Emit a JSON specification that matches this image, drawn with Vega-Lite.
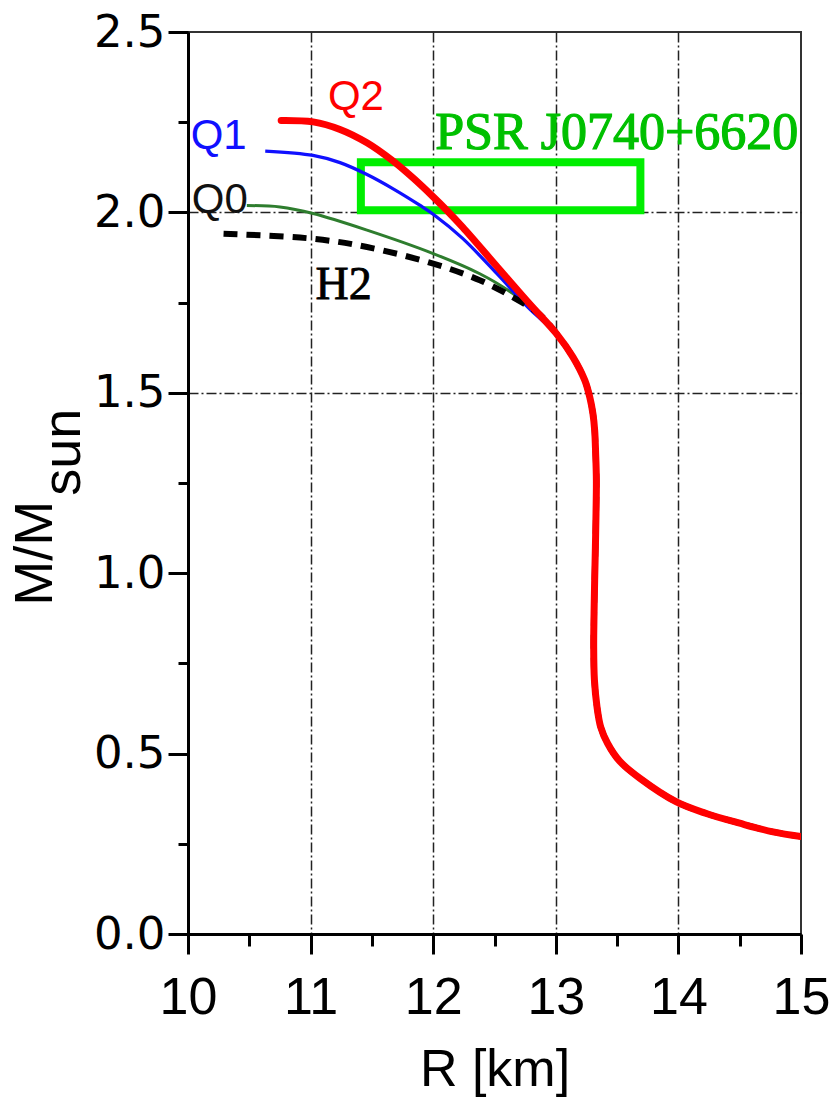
{
  "$schema": "https://vega.github.io/schema/vega-lite/v6.json",
  "description": "Mass-radius relations of neutron stars for the H2 and Q0-Q2 equations of state, with the PSR J0740+6620 constraint box.",
  "autosize": {"type": "none"},
  "padding": {"left": 188, "top": 32, "right": 31, "bottom": 168},
  "width": 613,
  "height": 902,
  "background": "white",
  "config": {
    "view": {"stroke": "#333333", "strokeWidth": 2},
    "font": "Liberation Sans"
  },
  "datasets": {
    "curves": [
      {"eos": "Q0", "R": 10.48, "M": 2.019},
      {"eos": "Q0", "R": 10.75, "M": 2.015},
      {"eos": "Q0", "R": 11.02, "M": 1.997},
      {"eos": "Q0", "R": 11.46, "M": 1.951},
      {"eos": "Q0", "R": 12.00, "M": 1.886},
      {"eos": "Q0", "R": 12.38, "M": 1.830},
      {"eos": "Q0", "R": 12.65, "M": 1.775},
      {"eos": "Q0", "R": 12.81, "M": 1.729},
      {"eos": "Q0", "R": 13.005, "M": 1.664},
      {"eos": "Q0", "R": 13.14, "M": 1.599},

      {"eos": "Q1", "R": 10.63, "M": 2.170},
      {"eos": "Q1", "R": 11.02, "M": 2.158},
      {"eos": "Q1", "R": 11.24, "M": 2.138},
      {"eos": "Q1", "R": 11.46, "M": 2.105},
      {"eos": "Q1", "R": 11.67, "M": 2.066},
      {"eos": "Q1", "R": 11.89, "M": 2.020},
      {"eos": "Q1", "R": 12.00, "M": 1.995},
      {"eos": "Q1", "R": 12.24, "M": 1.928},
      {"eos": "Q1", "R": 12.52, "M": 1.830},
      {"eos": "Q1", "R": 12.79, "M": 1.731},
      {"eos": "Q1", "R": 13.005, "M": 1.664},
      {"eos": "Q1", "R": 13.14, "M": 1.599},

      {"eos": "H2", "R": 10.29, "M": 1.941},
      {"eos": "H2", "R": 11.02, "M": 1.927},
      {"eos": "H2", "R": 11.46, "M": 1.904},
      {"eos": "H2", "R": 12.00, "M": 1.858},
      {"eos": "H2", "R": 12.38, "M": 1.812},
      {"eos": "H2", "R": 12.65, "M": 1.765},
      {"eos": "H2", "R": 12.87, "M": 1.717},
      {"eos": "H2", "R": 13.005, "M": 1.664},
      {"eos": "H2", "R": 13.14, "M": 1.599},
      {"eos": "H2", "R": 13.236, "M": 1.535},
      {"eos": "H2", "R": 13.277, "M": 1.488},
      {"eos": "H2", "R": 13.303, "M": 1.442},
      {"eos": "H2", "R": 13.317, "M": 1.396},
      {"eos": "H2", "R": 13.325, "M": 1.332},
      {"eos": "H2", "R": 13.331, "M": 1.258},
      {"eos": "H2", "R": 13.328, "M": 1.165},
      {"eos": "H2", "R": 13.323, "M": 1.073},
      {"eos": "H2", "R": 13.317, "M": 0.981},
      {"eos": "H2", "R": 13.312, "M": 0.888},
      {"eos": "H2", "R": 13.309, "M": 0.796},
      {"eos": "H2", "R": 13.315, "M": 0.704},
      {"eos": "H2", "R": 13.336, "M": 0.630},
      {"eos": "H2", "R": 13.366, "M": 0.574},
      {"eos": "H2", "R": 13.423, "M": 0.528},
      {"eos": "H2", "R": 13.521, "M": 0.479},
      {"eos": "H2", "R": 13.684, "M": 0.432},
      {"eos": "H2", "R": 13.984, "M": 0.366},
      {"eos": "H2", "R": 14.228, "M": 0.334},
      {"eos": "H2", "R": 14.500, "M": 0.307},
      {"eos": "H2", "R": 14.772, "M": 0.283},
      {"eos": "H2", "R": 15.000, "M": 0.270},

      {"eos": "Q2", "R": 10.76, "M": 2.255},
      {"eos": "Q2", "R": 11.02, "M": 2.251},
      {"eos": "Q2", "R": 11.24, "M": 2.230},
      {"eos": "Q2", "R": 11.46, "M": 2.193},
      {"eos": "Q2", "R": 11.67, "M": 2.143},
      {"eos": "Q2", "R": 11.84, "M": 2.094},
      {"eos": "Q2", "R": 12.00, "M": 2.043},
      {"eos": "Q2", "R": 12.11, "M": 2.006},
      {"eos": "Q2", "R": 12.24, "M": 1.959},
      {"eos": "Q2", "R": 12.52, "M": 1.850},
      {"eos": "Q2", "R": 12.79, "M": 1.745},
      {"eos": "Q2", "R": 13.005, "M": 1.664},
      {"eos": "Q2", "R": 13.14, "M": 1.599},
      {"eos": "Q2", "R": 13.236, "M": 1.535},
      {"eos": "Q2", "R": 13.277, "M": 1.488},
      {"eos": "Q2", "R": 13.303, "M": 1.442},
      {"eos": "Q2", "R": 13.317, "M": 1.396},
      {"eos": "Q2", "R": 13.325, "M": 1.332},
      {"eos": "Q2", "R": 13.331, "M": 1.258},
      {"eos": "Q2", "R": 13.328, "M": 1.165},
      {"eos": "Q2", "R": 13.323, "M": 1.073},
      {"eos": "Q2", "R": 13.317, "M": 0.981},
      {"eos": "Q2", "R": 13.312, "M": 0.888},
      {"eos": "Q2", "R": 13.309, "M": 0.796},
      {"eos": "Q2", "R": 13.315, "M": 0.704},
      {"eos": "Q2", "R": 13.336, "M": 0.630},
      {"eos": "Q2", "R": 13.366, "M": 0.574},
      {"eos": "Q2", "R": 13.423, "M": 0.528},
      {"eos": "Q2", "R": 13.521, "M": 0.479},
      {"eos": "Q2", "R": 13.684, "M": 0.432},
      {"eos": "Q2", "R": 13.984, "M": 0.366},
      {"eos": "Q2", "R": 14.228, "M": 0.334},
      {"eos": "Q2", "R": 14.500, "M": 0.307},
      {"eos": "Q2", "R": 14.772, "M": 0.283},
      {"eos": "Q2", "R": 15.000, "M": 0.270}
    ]
  },
  "encoding": {
    "x": {
      "field": "R",
      "type": "quantitative",
      "scale": {"domain": [10, 15], "nice": false, "zero": false},
      "axis": {
        "title": "R [km]",
        "values": [10, 10.5, 11, 11.5, 12, 12.5, 13, 13.5, 14, 14.5, 15],
        "labelExpr": "datum.value % 1 === 0 ? format(datum.value, 'd') : ''",
        "labelOverlap": false,
        "labelFlush": false,
        "labelBound": false,
        "labelFont": "Liberation Sans",
        "labelFontSize": 52,
        "labelColor": "black",
        "labelPadding": 18,
        "domainColor": "black",
        "domainWidth": 3,
        "tickColor": "black",
        "tickWidth": 3,
        "tickSize": {"condition": {"test": "datum.value % 1 === 0", "value": 20}, "value": 12},
        "grid": true,
        "gridColor": "#222222",
        "gridWidth": 1.5,
        "gridDash": [10, 3, 2, 3],
        "gridOpacity": {"condition": {"test": "datum.value % 1 === 0 && datum.value > 10 && datum.value < 15", "value": 1}, "value": 0},
        "titleFont": "Liberation Sans",
        "titleFontSize": 52,
        "titleFontWeight": "normal",
        "titleColor": "black",
        "titlePadding": 21
      }
    },
    "y": {
      "field": "M",
      "type": "quantitative",
      "scale": {"domain": [0, 2.5], "nice": false},
      "axis": {
        "title": null,
        "values": [0, 0.25, 0.5, 0.75, 1, 1.25, 1.5, 1.75, 2, 2.25, 2.5],
        "labelExpr": "datum.value % 0.5 === 0 ? format(datum.value, '.1f') : ''",
        "labelOverlap": false,
        "labelFlush": false,
        "labelBound": false,
        "labelFont": "DejaVu Sans",
        "labelFontSize": 45,
        "labelColor": "black",
        "labelPadding": 3,
        "domainColor": "black",
        "domainWidth": 3,
        "tickColor": "black",
        "tickWidth": 3,
        "tickSize": {"condition": {"test": "datum.value % 0.5 === 0", "value": 20}, "value": 10},
        "grid": true,
        "gridColor": "#222222",
        "gridWidth": 1.5,
        "gridDash": [10, 3, 2, 3],
        "gridOpacity": {"condition": {"test": "datum.value === 1.5 || datum.value === 2", "value": 1}, "value": 0}
      }
    }
  },
  "layer": [
    {
      "data": {"values": [{"name": "PSR J0740+6620", "R": 11.41, "R2": 13.69, "M": 2.006, "M2": 2.139}]},
      "mark": {"type": "rect", "fill": null, "fillOpacity": 0, "stroke": "#00ee00", "strokeWidth": 8},
      "encoding": {
        "x2": {"field": "R2"},
        "y2": {"field": "M2"}
      }
    },
    {
      "data": {"name": "curves"},
      "transform": [{"filter": "datum.eos === 'Q0'"}],
      "mark": {"type": "line", "color": "#2e7d2e", "strokeWidth": 3, "interpolate": "catmull-rom", "clip": true},
      "encoding": {"order": {"field": "M", "sort": "descending"}}
    },
    {
      "data": {"name": "curves"},
      "transform": [{"filter": "datum.eos === 'Q1'"}],
      "mark": {"type": "line", "color": "#1010ff", "strokeWidth": 3.3, "interpolate": "catmull-rom", "clip": true},
      "encoding": {"order": {"field": "M", "sort": "descending"}}
    },
    {
      "data": {"name": "curves"},
      "transform": [{"filter": "datum.eos === 'H2'"}],
      "mark": {"type": "line", "color": "black", "strokeWidth": 6, "strokeDash": [14, 9], "interpolate": "catmull-rom", "clip": true},
      "encoding": {"order": {"field": "M", "sort": "descending"}}
    },
    {
      "data": {"name": "curves"},
      "transform": [{"filter": "datum.eos === 'Q2'"}],
      "mark": {"type": "line", "color": "#ff0000", "strokeWidth": 7, "strokeCap": "round", "interpolate": "catmull-rom", "clip": true},
      "encoding": {"order": {"field": "M", "sort": "descending"}}
    },
    {
      "data": {"values": [{"label": "Q2", "R": 11.37, "M": 2.319}]},
      "mark": {"type": "text", "font": "Liberation Sans", "fontSize": 42, "color": "#ff0000", "align": "center", "baseline": "middle"},
      "encoding": {"text": {"field": "label"}}
    },
    {
      "data": {"values": [{"label": "Q1", "R": 10.25, "M": 2.213}]},
      "mark": {"type": "text", "font": "Liberation Sans", "fontSize": 42, "color": "#1010ff", "align": "center", "baseline": "middle"},
      "encoding": {"text": {"field": "label"}}
    },
    {
      "data": {"values": [{"label": "Q0", "R": 10.26, "M": 2.033}]},
      "mark": {"type": "text", "font": "Liberation Sans", "fontSize": 42, "color": "#111111", "align": "center", "baseline": "middle"},
      "encoding": {"text": {"field": "label"}}
    },
    {
      "data": {"values": [{"label": "H2", "R": 11.27, "M": 1.798}]},
      "mark": {"type": "text", "font": "Liberation Serif", "fontSize": 46, "color": "black", "stroke": "black", "strokeWidth": 0.8, "align": "center", "baseline": "middle"},
      "encoding": {"text": {"field": "label"}}
    },
    {
      "data": {"values": [{"label": "PSR J0740+6620", "R": 13.497, "M": 2.219}]},
      "mark": {"type": "text", "font": "Liberation Serif", "fontSize": 52, "color": "#00c000", "stroke": "#00c000", "strokeWidth": 1.2, "align": "center", "baseline": "middle"},
      "encoding": {"text": {"field": "label"}}
    },
    {
      "data": {"values": [{"label": "M/M", "R": 8.758, "M": 1.055}, {"label": "sun", "R": 8.986, "M": 1.335}]},
      "mark": {"type": "text", "font": "Liberation Sans", "fontSize": 54, "color": "black", "angle": 270, "align": "center", "baseline": "middle"},
      "encoding": {"text": {"field": "label"}}
    }
  ]
}
